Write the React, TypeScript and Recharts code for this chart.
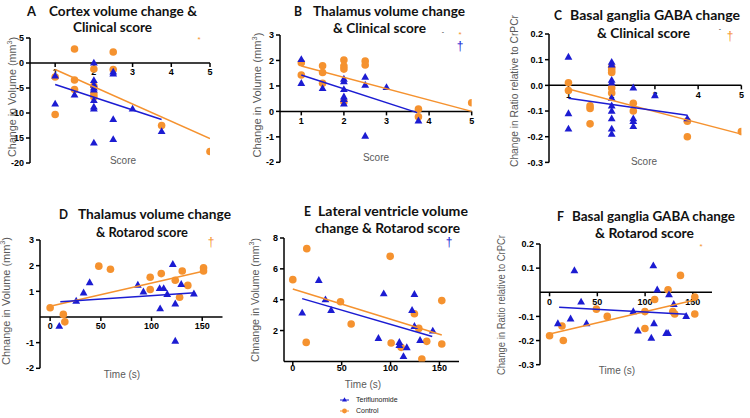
import React from 'react'
import { ScatterChart, Scatter, XAxis, YAxis, ReferenceLine, ReferenceDot } from 'recharts'

// colours picked off the figure
const BLUE = '#1c1cd2'
const ORANGE = '#f5922f'
const GREY = '#5a5a5a'
const TICK_FONT = '"Liberation Sans", Arial, sans-serif'
const TITLE_FONT = 'Lato, "Open Sans", sans-serif'

type Pt = { x: number; y: number }

// A: cortex volume change vs clinical score
const aTeri: Pt[] = [
  { x: 1, y: -2.6 }, { x: 1, y: -8.2 }, { x: 1.5, y: -6.4 },
  { x: 2, y: 0 }, { x: 2, y: -3.5 }, { x: 2, y: -4.4 }, { x: 2, y: -5.0 }, { x: 2, y: -5.4 },
  { x: 2, y: -7.5 }, { x: 2, y: -8.8 }, { x: 2, y: -9.2 }, { x: 2, y: -16 },
  { x: 2.5, y: -1.8 }, { x: 2.5, y: -2.2 }, { x: 2.5, y: -11.3 }, { x: 2.5, y: -15.3 },
  { x: 3, y: -9.2 }, { x: 3.75, y: -13.7 },
]
const aCtrl: Pt[] = [
  { x: 1, y: -2.8 }, { x: 1, y: -10.3 }, { x: 1.5, y: 2.8 }, { x: 1.5, y: -3.4 }, { x: 1.5, y: -5.3 },
  { x: 2, y: -1.2 }, { x: 2, y: -4.6 }, { x: 2, y: -6.2 }, { x: 2, y: -6.8 },
  { x: 2.5, y: 2.2 }, { x: 2.5, y: -1.3 }, { x: 3.75, y: -12.5 }, { x: 5, y: -17.7 },
]
const aTeriFit: Pt[] = [{ x: 1, y: -4.3 }, { x: 3.75, y: -11.3 }]
const aCtrlFit: Pt[] = [{ x: 1, y: -1.3 }, { x: 5, y: -15.1 }]

// B: thalamus volume change vs clinical score
const bTeri: Pt[] = [
  { x: 1, y: 2.04 }, { x: 1, y: 1.1 }, { x: 1.5, y: 0.9 },
  { x: 2, y: 1.27 }, { x: 2, y: 1.17 }, { x: 2, y: 0.86 }, { x: 2, y: 0.57 }, { x: 2, y: 0.47 }, { x: 2, y: 0.29 },
  { x: 2.5, y: 1.34 }, { x: 2.5, y: 1.03 }, { x: 2.5, y: -0.97 }, { x: 3, y: 0.94 }, { x: 3.75, y: -0.37 },
]
const bCtrl: Pt[] = [
  { x: 1, y: 1.91 }, { x: 1, y: 1.43 }, { x: 1.5, y: 1.79 }, { x: 1.5, y: 1.53 }, { x: 1.5, y: 1.1 },
  { x: 2, y: 2.02 }, { x: 2, y: 1.78 }, { x: 2, y: 1.66 }, { x: 2, y: 0.38 },
  { x: 2.5, y: 1.98 }, { x: 2.5, y: 1.82 }, { x: 3.75, y: 0.09 }, { x: 3.75, y: -0.21 }, { x: 5, y: 0.34 },
]
const bTeriFit: Pt[] = [{ x: 1, y: 1.43 }, { x: 3.72, y: -0.05 }]
const bCtrlFit: Pt[] = [{ x: 1, y: 1.78 }, { x: 5, y: 0 }]

// C: basal ganglia GABA vs clinical score
const cTeri: Pt[] = [
  { x: 1, y: 0.11 }, { x: 1, y: -0.11 }, { x: 1, y: -0.17 },
  { x: 2, y: 0.09 }, { x: 2, y: 0.08 }, { x: 2, y: 0.02 }, { x: 2, y: 0.01 }, { x: 2, y: -0.05 },
  { x: 2, y: -0.08 }, { x: 2, y: -0.1 }, { x: 2, y: -0.13 }, { x: 2, y: -0.17 }, { x: 2, y: -0.19 },
  { x: 2.5, y: -0.01 }, { x: 2.5, y: -0.13 }, { x: 2.5, y: -0.14 }, { x: 2.5, y: -0.16 },
  { x: 3, y: -0.04 }, { x: 3.75, y: -0.13 },
]
const cCtrl: Pt[] = [
  { x: 1, y: 0.01 }, { x: 1, y: -0.02 }, { x: 1.5, y: -0.08 }, { x: 1.5, y: -0.09 }, { x: 1.5, y: -0.15 },
  { x: 2, y: 0.07 }, { x: 2, y: 0.06 }, { x: 2, y: 0.05 }, { x: 2, y: -0.01 }, { x: 2, y: -0.03 },
  { x: 2.5, y: -0.07 }, { x: 2.5, y: -0.1 }, { x: 3.75, y: -0.14 }, { x: 3.75, y: -0.2 }, { x: 5, y: -0.18 },
]
const cTeriFit: Pt[] = [{ x: 1, y: -0.05 }, { x: 3.75, y: -0.116 }]
const cCtrlFit: Pt[] = [{ x: 1, y: -0.014 }, { x: 5, y: -0.19 }]

// D: thalamus volume change vs rotarod time
const dTeri: Pt[] = [
  { x: 9, y: -0.36 }, { x: 25.7, y: 0.62 }, { x: 33, y: 0.94 }, { x: 39, y: 1.34 }, { x: 86.5, y: 1.24 },
  { x: 92, y: 0.98 }, { x: 108, y: 1.11 }, { x: 112, y: 1.11 }, { x: 108.5, y: 0.32 }, { x: 115.5, y: 0.88 },
  { x: 121, y: 2.05 }, { x: 123.4, y: 0.51 }, { x: 123.4, y: -0.94 }, { x: 129.3, y: 1.27 }, { x: 141.8, y: 0.9 },
]
const dCtrl: Pt[] = [
  { x: 0, y: 0.36 }, { x: 13, y: 0.1 }, { x: 14.5, y: -0.19 }, { x: 48, y: 1.98 }, { x: 59.5, y: 1.86 },
  { x: 98.7, y: 1.55 }, { x: 98.7, y: 1.07 }, { x: 109.6, y: 1.69 }, { x: 123.4, y: 1.43 }, { x: 130.3, y: 1.79 },
  { x: 127.7, y: 0.77 }, { x: 135.8, y: 1.23 }, { x: 151.3, y: 1.92 }, { x: 151.3, y: 1.79 },
]
const dTeriFit: Pt[] = [{ x: 10, y: 0.59 }, { x: 143, y: 0.94 }]
const dCtrlFit: Pt[] = [{ x: 0, y: 0.42 }, { x: 152, y: 1.79 }]

// E: lateral ventricle volume change vs rotarod time
const eTeri: Pt[] = [
  { x: 9.6, y: 3.14 }, { x: 26.6, y: 5.25 }, { x: 33.4, y: 4.0 }, { x: 39.2, y: 3.31 }, { x: 87.6, y: 1.49 },
  { x: 93, y: 4.39 }, { x: 109, y: 1.23 }, { x: 109, y: 1.04 }, { x: 116.6, y: 0.89 }, { x: 113.2, y: 0.32 },
  { x: 122, y: 3.31 }, { x: 124.4, y: 4.35 }, { x: 124.4, y: 2.27 }, { x: 130.2, y: 1.36 }, { x: 143.2, y: 1.97 },
]
const eCtrl: Pt[] = [
  { x: 0, y: 5.3 }, { x: 14.3, y: 7.31 }, { x: 13.7, y: 1.23 }, { x: 48.8, y: 3.87 }, { x: 59.7, y: 2.42 },
  { x: 99.6, y: 6.81 }, { x: 100.6, y: 1.19 }, { x: 110.8, y: 0.91 }, { x: 124.4, y: 3.09 }, { x: 128.9, y: 2.14 },
  { x: 137, y: 1.3 }, { x: 132, y: 0.15 }, { x: 152.4, y: 3.94 }, { x: 152.4, y: 1.13 },
]
const eTeriFit: Pt[] = [{ x: 9.6, y: 4.07 }, { x: 142.6, y: 1.62 }]
const eCtrlFit: Pt[] = [{ x: 0, y: 4.69 }, { x: 152.4, y: 1.71 }]

// F: basal ganglia GABA vs rotarod time
const fTeri: Pt[] = [
  { x: 8.7, y: -0.13 }, { x: 22, y: -0.11 }, { x: 26, y: 0.09 }, { x: 33, y: -0.04 }, { x: 38.7, y: -0.13 },
  { x: 87.6, y: -0.08 }, { x: 92.5, y: -0.16 }, { x: 108.6, y: 0.11 }, { x: 109.3, y: -0.13 }, { x: 112.7, y: 0.01 },
  { x: 106.5, y: -0.19 }, { x: 122, y: -0.17 }, { x: 124, y: -0.17 }, { x: 125, y: -0.01 }, { x: 130, y: -0.05 },
  { x: 143, y: -0.1 },
]
const fCtrl: Pt[] = [
  { x: 0, y: -0.18 }, { x: 13, y: -0.14 }, { x: 14.4, y: -0.2 }, { x: 49, y: -0.07 }, { x: 60.4, y: -0.1 },
  { x: 99.8, y: -0.08 }, { x: 99.8, y: -0.15 }, { x: 110, y: -0.03 }, { x: 124, y: 0.01 }, { x: 137, y: 0.07 },
  { x: 129, y: -0.08 }, { x: 131, y: -0.09 }, { x: 152, y: -0.02 }, { x: 152, y: -0.09 },
]
const fTeriFit: Pt[] = [{ x: 10, y: -0.062 }, { x: 143, y: -0.091 }]
const fCtrlFit: Pt[] = [{ x: 0, y: -0.173 }, { x: 152, y: -0.032 }]

const scoreTicks = [1, 2, 3, 4, 5]
const timeTicks = [0, 50, 100, 150]

const M = { top: 6, right: 6, bottom: 20, left: 4 }
const YW = 30

const circleShape = (p: any) => <circle cx={p.cx} cy={p.cy} r={3.8} fill={ORANGE} />
const triShape = (p: any) => (
  <polygon
    points={`${p.cx},${p.cy - 4.3} ${p.cx - 3.9},${p.cy + 2.6} ${p.cx + 3.9},${p.cy + 2.6}`}
    fill={BLUE}
  />
)
const noShape = () => <g />

function XTick({ cx, cy, label, gap }: any) {
  return (
    <g>
      <line x1={cx} y1={cy} x2={cx} y2={cy + 4} stroke="#000" strokeWidth={1.5} />
      <text
        x={cx}
        y={cy + gap}
        textAnchor="middle"
        dominantBaseline="middle"
        fontFamily={TICK_FONT}
        fontWeight={700}
        fontSize={9}
        fill="#000"
      >
        {label}
      </text>
    </g>
  )
}

interface PanelProps {
  left: number
  top: number
  width: number
  height: number
  xDomain: [number, number]
  yDomain: [number, number]
  xTicks: number[]
  yTicks: number[]
  yFormat?: (v: number) => string
  teri: Pt[]
  ctrl: Pt[]
  teriFit: Pt[]
  ctrlFit: Pt[]
  gap?: number
}

function Panel(p: PanelProps) {
  const w = M.left + YW + p.width + M.right
  const h = M.top + p.height + M.bottom
  const gap = p.gap ?? 10
  return (
    <div style={{ position: 'absolute', left: p.left - M.left - YW, top: p.top - M.top }}>
      <ScatterChart width={w} height={h} margin={M}>
        <XAxis type="number" dataKey="x" domain={p.xDomain} hide allowDataOverflow />
        <YAxis
          type="number"
          dataKey="y"
          domain={p.yDomain}
          ticks={p.yTicks}
          interval={0}
          width={YW}
          allowDataOverflow
          tickSize={4}
          tickFormatter={p.yFormat}
          tick={{ fill: '#000', fontSize: 9, fontWeight: 700, fontFamily: TICK_FONT }}
          tickLine={{ stroke: '#000', strokeWidth: 1.5 }}
          axisLine={{ stroke: '#000', strokeWidth: 1.5 }}
        />
        <ReferenceLine y={0} stroke="#000" strokeWidth={1.5} />
        {p.xTicks.map((t) => (
          <ReferenceDot
            key={t}
            x={t}
            y={0}
            r={0}
            shape={(s: any) => <XTick cx={s.cx} cy={s.cy} label={t} gap={gap} />}
          />
        ))}
        <Scatter data={p.ctrl} shape={circleShape} isAnimationActive={false} />
        <Scatter data={p.teri} shape={triShape} isAnimationActive={false} />
        <Scatter
          data={p.ctrlFit}
          line={{ stroke: ORANGE, strokeWidth: 1.5 }}
          lineType="joint"
          shape={noShape}
          isAnimationActive={false}
        />
        <Scatter
          data={p.teriFit}
          line={{ stroke: BLUE, strokeWidth: 1.5 }}
          lineType="joint"
          shape={noShape}
          isAnimationActive={false}
        />
      </ScatterChart>
    </div>
  )
}

const fmt1 = (v: number) => v.toFixed(1)

function Title({ x, y, len, children, size = 14 }: any) {
  return (
    <text
      x={x}
      y={y}
      textLength={len}
      lengthAdjust="spacingAndGlyphs"
      dominantBaseline="middle"
      fontFamily={TITLE_FONT}
      fontWeight={700}
      fontSize={size}
      fill="#111"
    >
      {children}
    </text>
  )
}

function YLabel({ cx, cy, len, text, sup, size = 10.5 }: any) {
  return (
    <text
      x={cx}
      y={cy}
      transform={`rotate(-90 ${cx} ${cy})`}
      textAnchor="middle"
      dominantBaseline="middle"
      textLength={len}
      lengthAdjust="spacingAndGlyphs"
      fontFamily={TICK_FONT}
      fontSize={size}
      fill={GREY}
    >
      {text}
      {sup && (
        <>
          <tspan dy={-4} fontSize={7}>3</tspan>
          <tspan dy={4}>)</tspan>
        </>
      )}
    </text>
  )
}

function XLabel({ cx, cy, text }: any) {
  return (
    <text x={cx} y={cy} textAnchor="middle" dominantBaseline="middle" fontFamily={TICK_FONT} fontSize={10} fill={GREY}>
      {text}
    </text>
  )
}

function Mark({ x, y, text, color, size }: any) {
  return (
    <text x={x} y={y} textAnchor="middle" dominantBaseline="middle" fontFamily={TICK_FONT} fontSize={size} fill={color}>
      {text}
    </text>
  )
}

export default function App() {
  return (
    <div style={{ position: 'absolute', left: 0, top: 0, width: 750, height: 418, background: '#fff', overflow: 'hidden' }}>
      <Panel left={30} top={37.5} width={180} height={125} xDomain={[0.35, 5]} yDomain={[-20, 5]}
        xTicks={scoreTicks} yTicks={[-20, -15, -10, -5, 0, 5]}
        teri={aTeri} ctrl={aCtrl} teriFit={aTeriFit} ctrlFit={aCtrlFit} />
      <Panel left={280} top={35} width={191.7} height={127.3} xDomain={[0.5, 5]} yDomain={[-2, 3]}
        xTicks={scoreTicks} yTicks={[-2, -1, 0, 1, 2, 3]}
        teri={bTeri} ctrl={bCtrl} teriFit={bTeriFit} ctrlFit={bCtrlFit} />
      <Panel left={549.3} top={34.3} width={192.4} height={128.4} xDomain={[0.55, 5]} yDomain={[-0.3, 0.2]}
        xTicks={scoreTicks} yTicks={[-0.3, -0.2, -0.1, 0, 0.1, 0.2]} yFormat={fmt1}
        teri={cTeri} ctrl={cCtrl} teriFit={cTeriFit} ctrlFit={cCtrlFit} />
      <Panel left={40} top={240} width={182.5} height={128.3} xDomain={[-10, 170]} yDomain={[-2, 3]}
        xTicks={timeTicks} yTicks={[-2, -1, 1, 2, 3]}
        teri={dTeri} ctrl={dCtrl} teriFit={dTeriFit} ctrlFit={dCtrlFit} />
      <Panel left={284.3} top={238.3} width={175} height={123.4} xDomain={[-9, 170]} yDomain={[0, 8]}
        xTicks={timeTicks} yTicks={[2, 4, 6, 8]} gap={7}
        teri={eTeri} ctrl={eCtrl} teriFit={eTeriFit} ctrlFit={eCtrlFit} />
      <Panel left={539.5} top={244.3} width={172} height={120.7} xDomain={[-10, 170]} yDomain={[-0.3, 0.2]}
        xTicks={timeTicks} yTicks={[-0.3, -0.2, -0.1, 0.1, 0.2]}
        teri={fTeri} ctrl={fCtrl} teriFit={fTeriFit} ctrlFit={fCtrlFit} />

      <svg width={750} height={418} style={{ position: 'absolute', left: 0, top: 0, pointerEvents: 'none' }}>
        <Title x={27} y={12} len={9}>A</Title>
        <Title x={49} y={12} len={148}>Cortex volume change &amp;</Title>
        <Title x={73} y={28} len={79}>Clinical score</Title>

        <Title x={294} y={12} len={8}>B</Title>
        <Title x={313} y={12} len={152}>Thalamus volume change</Title>
        <Title x={333} y={29} len={93}>&amp; Clinical score</Title>

        <Title x={554} y={16} len={8}>C</Title>
        <Title x={570} y={16} len={170}>Basal ganglia GABA change</Title>
        <Title x={597} y={34} len={93}>&amp; Clinical score</Title>

        <Title x={59} y={215} len={9}>D</Title>
        <Title x={78} y={215} len={153}>Thalamus volume change</Title>
        <Title x={96} y={233} len={92}>&amp; Rotarod score</Title>

        <Title x={304} y={212} len={7}>E</Title>
        <Title x={318} y={212} len={150}>Lateral  ventricle volume</Title>
        <Title x={315} y={229} len={145}>change &amp; Rotarod score</Title>

        <Title x={557} y={217} len={7}>F</Title>
        <Title x={572} y={217} len={163}>Basal ganglia GABA change</Title>
        <Title x={595} y={234} len={99}>&amp; Rotarod score</Title>

        <YLabel cx={13.5} cy={97} len={120} text="Change in Volume (mm" sup />
        <YLabel cx={258.5} cy={95} len={125} text="Change in Volume (mm" sup />
        <YLabel cx={515} cy={91} len={152} text="Change in Ratio relative to CrPCr" size={10} />
        <YLabel cx={7} cy={301} len={128} text="Chnange in Volume (mm" sup />
        <YLabel cx={256} cy={300} len={124} text="Chnange in Volume (mm" sup />
        <YLabel cx={502} cy={305} len={140} text="Change in Ratio relative to CrPCr" size={10} />

        <XLabel cx={123} cy={161} text="Score" />
        <XLabel cx={376} cy={158} text="Score" />
        <XLabel cx={644} cy={162} text="Score" />
        <XLabel cx={122} cy={375} text="Time (s)" />
        <XLabel cx={363} cy={385} text="Time (s)" />
        <XLabel cx={617} cy={371} text="Time (s)" />

        <Mark x={199} y={40} text="*" color={ORANGE} size={8} />
        <Mark x={460} y={35} text="*" color={ORANGE} size={8} />
        <Mark x={460} y={47} text="†" color={BLUE} size={12} />
        <Mark x={443} y={32} text="-" color="#333" size={7} />
        <Mark x={730} y={37} text="†" color={ORANGE} size={12} />
        <Mark x={720} y={29} text="-" color="#333" size={7} />
        <Mark x={211} y={243} text="†" color={ORANGE} size={12} />
        <Mark x={449} y={243} text="†" color={BLUE} size={12} />
        <Mark x={701} y={247} text="*" color={ORANGE} size={8} />

        {/* legend under panel E */}
        <line x1={340} y1={400} x2={349} y2={400} stroke={BLUE} strokeWidth={1} />
        <polygon points="344.5,397.2 342,401.4 347,401.4" fill={BLUE} />
        <text x={356} y={400} dominantBaseline="middle" fontFamily={TICK_FONT} fontSize={7} fill="#222">Teriflunomide</text>
        <line x1={340} y1={411} x2={349} y2={411} stroke={ORANGE} strokeWidth={1} />
        <circle cx={344.5} cy={411} r={2.4} fill={ORANGE} />
        <text x={356} y={411} dominantBaseline="middle" fontFamily={TICK_FONT} fontSize={7} fill="#222">Control</text>
      </svg>
    </div>
  )
}
